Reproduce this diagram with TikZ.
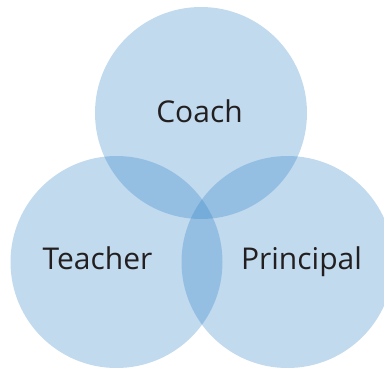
\documentclass[tikz,border=0pt]{standalone}
\usepackage{fontspec}
\setmainfont{Open Sans}
\definecolor{venn}{rgb}{0.17,0.50,0.78}
\definecolor{labelc}{HTML}{231F20}
\tikzset{
  venncircle/.style={circle, draw=none, fill=venn, fill opacity=0.29, minimum size=212pt, inner sep=0pt},
  vennlabel/.style={anchor=base, text=labelc, font=\fontsize{30}{36}\selectfont, inner sep=0pt}
}
\begin{document}
\begin{tikzpicture}[x=1pt,y=-1pt]
  \clip (0,0) rectangle (384,368);
  \fill[white] (0,0) rectangle (384,368);
  \node[venncircle] (coach) at (201,113) {};
  \node[venncircle] (teacher) at (116.5,262) {};
  \node[venncircle] (principal) at (287.5,262) {};
  \node[vennlabel] (lcoach) at (199.5,122) {Coach};
  \node[vennlabel] (lteacher) at (97.5,269) {Teacher};
  \node[vennlabel] (lprincipal) at (301.5,269) {Principal};
\end{tikzpicture}
\end{document}
